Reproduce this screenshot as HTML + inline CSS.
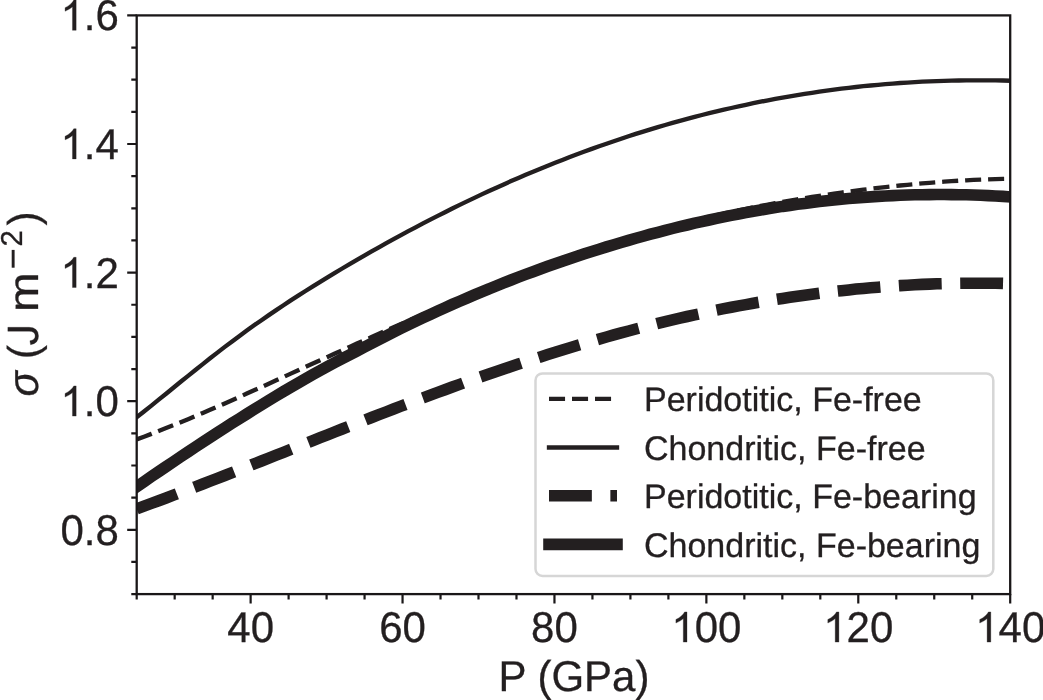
<!DOCTYPE html>
<html><head><meta charset="utf-8"><style>
html,body{margin:0;padding:0;background:#fff;overflow:hidden;}
svg{display:block;will-change:transform;}
text{font-family:"Liberation Sans",sans-serif;fill:#231f20;text-rendering:geometricPrecision;stroke:#231f20;stroke-width:0.3px;}
.g1{stroke:#231f20;stroke-width:0.3px;vector-effect:non-scaling-stroke;}
</style></head><body>
<svg width="1043" height="700" viewBox="0 0 1043 700">
<rect width="1043" height="700" fill="#fff"/>
<defs><clipPath id="ax"><rect x="136.7" y="15.4" width="873.5" height="578.7"/></clipPath></defs>
<g clip-path="url(#ax)" fill="none" stroke="#231f20" stroke-linejoin="round">
<path d="M136.7,439.4 L144.0,436.7 L151.4,433.9 L158.7,431.0 L166.1,428.1 L173.4,425.2 L180.7,422.2 L188.1,419.2 L195.4,416.1 L202.8,413.0 L210.1,409.8 L217.4,406.6 L224.8,403.4 L232.1,400.2 L239.5,396.9 L246.8,393.6 L254.1,390.3 L261.5,387.0 L268.8,383.7 L276.2,380.3 L283.5,377.0 L290.8,373.6 L298.2,370.3 L305.5,366.9 L312.9,363.6 L320.2,360.2 L327.5,356.9 L334.9,353.6 L342.2,350.3 L349.6,346.9 L356.9,343.6 L364.3,340.3 L371.6,337.1 L378.9,333.8 L386.3,330.5 L393.6,327.3 L401.0,324.1 L408.3,320.9 L415.6,317.7 L423.0,314.5 L430.3,311.4 L437.7,308.2 L445.0,305.1 L452.3,302.0 L459.7,299.0 L467.0,295.9 L474.4,292.9 L481.7,290.0 L489.0,287.0 L496.4,284.1 L503.7,281.2 L511.1,278.4 L518.4,275.5 L525.7,272.8 L533.1,270.0 L540.4,267.3 L547.8,264.6 L555.1,262.0 L562.4,259.4 L569.8,256.8 L577.1,254.3 L584.5,251.9 L591.8,249.4 L599.1,247.1 L606.5,244.7 L613.8,242.5 L621.2,240.2 L628.5,238.0 L635.8,235.9 L643.2,233.8 L650.5,231.7 L657.9,229.7 L665.2,227.8 L672.5,225.8 L679.9,224.0 L687.2,222.1 L694.6,220.3 L701.9,218.6 L709.2,216.9 L716.6,215.2 L723.9,213.5 L731.3,212.0 L738.6,210.4 L745.9,208.9 L753.3,207.4 L760.6,206.0 L768.0,204.6 L775.3,203.2 L782.6,201.9 L790.0,200.6 L797.3,199.4 L804.7,198.2 L812.0,197.0 L819.4,195.8 L826.7,194.7 L834.0,193.6 L841.4,192.6 L848.7,191.6 L856.1,190.6 L863.4,189.7 L870.7,188.8 L878.1,187.9 L885.4,187.1 L892.8,186.3 L900.1,185.5 L907.4,184.8 L914.8,184.1 L922.1,183.4 L929.5,182.8 L936.8,182.2 L944.1,181.7 L951.5,181.2 L958.8,180.7 L966.2,180.3 L973.5,179.9 L980.8,179.6 L988.2,179.3 L995.5,179.1 L1002.9,178.9 L1010.2,178.8" stroke-width="4.34" stroke-dasharray="16.058 6.944"/>
<path d="M136.7,417.3 L144.0,411.5 L151.4,405.6 L158.7,399.6 L166.1,393.7 L173.4,387.7 L180.7,381.8 L188.1,375.9 L195.4,370.0 L202.8,364.1 L210.1,358.3 L217.4,352.6 L224.8,346.9 L232.1,341.4 L239.5,335.9 L246.8,330.6 L254.1,325.3 L261.5,320.2 L268.8,315.1 L276.2,310.1 L283.5,305.3 L290.8,300.4 L298.2,295.7 L305.5,291.0 L312.9,286.4 L320.2,281.9 L327.5,277.4 L334.9,272.9 L342.2,268.5 L349.6,264.2 L356.9,259.9 L364.3,255.6 L371.6,251.4 L378.9,247.3 L386.3,243.2 L393.6,239.1 L401.0,235.1 L408.3,231.2 L415.6,227.3 L423.0,223.4 L430.3,219.6 L437.7,215.9 L445.0,212.2 L452.3,208.5 L459.7,204.9 L467.0,201.4 L474.4,197.9 L481.7,194.4 L489.0,191.0 L496.4,187.7 L503.7,184.4 L511.1,181.1 L518.4,178.0 L525.7,174.8 L533.1,171.7 L540.4,168.7 L547.8,165.7 L555.1,162.8 L562.4,159.9 L569.8,157.0 L577.1,154.3 L584.5,151.5 L591.8,148.9 L599.1,146.2 L606.5,143.7 L613.8,141.2 L621.2,138.7 L628.5,136.3 L635.8,133.9 L643.2,131.6 L650.5,129.4 L657.9,127.2 L665.2,125.0 L672.5,122.9 L679.9,120.9 L687.2,118.9 L694.6,116.9 L701.9,115.0 L709.2,113.2 L716.6,111.4 L723.9,109.7 L731.3,108.0 L738.6,106.4 L745.9,104.8 L753.3,103.2 L760.6,101.7 L768.0,100.3 L775.3,98.9 L782.6,97.6 L790.0,96.3 L797.3,95.1 L804.7,93.9 L812.0,92.8 L819.4,91.7 L826.7,90.7 L834.0,89.7 L841.4,88.7 L848.7,87.9 L856.1,87.0 L863.4,86.2 L870.7,85.5 L878.1,84.8 L885.4,84.2 L892.8,83.6 L900.1,83.0 L907.4,82.6 L914.8,82.1 L922.1,81.7 L929.5,81.4 L936.8,81.1 L944.1,80.8 L951.5,80.6 L958.8,80.5 L966.2,80.4 L973.5,80.3 L980.8,80.3 L988.2,80.3 L995.5,80.4 L1002.9,80.5 L1010.2,80.7" stroke-width="4.34" stroke-linecap="square"/>
<path d="M136.7,508.8 L144.0,506.1 L151.4,503.4 L158.7,500.7 L166.1,498.0 L173.4,495.2 L180.7,492.4 L188.1,489.6 L195.4,486.8 L202.8,484.0 L210.1,481.2 L217.4,478.3 L224.8,475.5 L232.1,472.6 L239.5,469.7 L246.8,466.8 L254.1,463.9 L261.5,461.0 L268.8,458.1 L276.2,455.2 L283.5,452.3 L290.8,449.4 L298.2,446.4 L305.5,443.5 L312.9,440.6 L320.2,437.7 L327.5,434.8 L334.9,431.9 L342.2,429.0 L349.6,426.1 L356.9,423.2 L364.3,420.4 L371.6,417.5 L378.9,414.6 L386.3,411.8 L393.6,409.0 L401.0,406.2 L408.3,403.4 L415.6,400.6 L423.0,397.9 L430.3,395.1 L437.7,392.4 L445.0,389.7 L452.3,387.0 L459.7,384.4 L467.0,381.7 L474.4,379.1 L481.7,376.6 L489.0,374.0 L496.4,371.5 L503.7,369.0 L511.1,366.5 L518.4,364.0 L525.7,361.6 L533.1,359.2 L540.4,356.9 L547.8,354.5 L555.1,352.2 L562.4,349.9 L569.8,347.7 L577.1,345.5 L584.5,343.3 L591.8,341.2 L599.1,339.1 L606.5,337.0 L613.8,334.9 L621.2,332.9 L628.5,331.0 L635.8,329.0 L643.2,327.1 L650.5,325.3 L657.9,323.4 L665.2,321.6 L672.5,319.9 L679.9,318.2 L687.2,316.5 L694.6,314.9 L701.9,313.3 L709.2,311.7 L716.6,310.2 L723.9,308.7 L731.3,307.3 L738.6,305.9 L745.9,304.6 L753.3,303.2 L760.6,302.0 L768.0,300.7 L775.3,299.5 L782.6,298.4 L790.0,297.3 L797.3,296.2 L804.7,295.2 L812.0,294.2 L819.4,293.2 L826.7,292.3 L834.0,291.5 L841.4,290.7 L848.7,289.9 L856.1,289.1 L863.4,288.4 L870.7,287.8 L878.1,287.2 L885.4,286.6 L892.8,286.1 L900.1,285.6 L907.4,285.2 L914.8,284.8 L922.1,284.4 L929.5,284.1 L936.8,283.8 L944.1,283.6 L951.5,283.4 L958.8,283.3 L966.2,283.2 L973.5,283.2 L980.8,283.2 L988.2,283.2 L995.5,283.3 L1002.9,283.4 L1010.2,283.6" stroke-width="11.58" stroke-dasharray="42.846 18.528"/>
<path d="M136.7,486.8 L144.0,481.7 L151.4,476.6 L158.7,471.6 L166.1,466.6 L173.4,461.7 L180.7,456.8 L188.1,451.9 L195.4,447.0 L202.8,442.2 L210.1,437.4 L217.4,432.6 L224.8,427.9 L232.1,423.2 L239.5,418.6 L246.8,414.0 L254.1,409.4 L261.5,404.9 L268.8,400.4 L276.2,395.9 L283.5,391.5 L290.8,387.2 L298.2,382.9 L305.5,378.7 L312.9,374.5 L320.2,370.5 L327.5,366.5 L334.9,362.5 L342.2,358.6 L349.6,354.8 L356.9,351.0 L364.3,347.2 L371.6,343.4 L378.9,339.6 L386.3,335.8 L393.6,332.1 L401.0,328.4 L408.3,324.8 L415.6,321.3 L423.0,317.8 L430.3,314.4 L437.7,311.0 L445.0,307.7 L452.3,304.4 L459.7,301.2 L467.0,298.1 L474.4,294.9 L481.7,291.9 L489.0,288.8 L496.4,285.9 L503.7,282.9 L511.1,280.0 L518.4,277.2 L525.7,274.4 L533.1,271.7 L540.4,269.0 L547.8,266.3 L555.1,263.7 L562.4,261.2 L569.8,258.7 L577.1,256.3 L584.5,253.8 L591.8,251.5 L599.1,249.2 L606.5,246.9 L613.8,244.7 L621.2,242.5 L628.5,240.4 L635.8,238.3 L643.2,236.2 L650.5,234.2 L657.9,232.3 L665.2,230.4 L672.5,228.5 L679.9,226.7 L687.2,225.0 L694.6,223.2 L701.9,221.6 L709.2,220.0 L716.6,218.4 L723.9,216.9 L731.3,215.4 L738.6,214.0 L745.9,212.6 L753.3,211.2 L760.6,210.0 L768.0,208.7 L775.3,207.6 L782.6,206.4 L790.0,205.4 L797.3,204.3 L804.7,203.4 L812.0,202.4 L819.4,201.6 L826.7,200.7 L834.0,200.0 L841.4,199.2 L848.7,198.6 L856.1,197.9 L863.4,197.4 L870.7,196.9 L878.1,196.4 L885.4,196.0 L892.8,195.6 L900.1,195.3 L907.4,195.0 L914.8,194.8 L922.1,194.7 L929.5,194.6 L936.8,194.5 L944.1,194.5 L951.5,194.6 L958.8,194.7 L966.2,194.8 L973.5,195.0 L980.8,195.3 L988.2,195.6 L995.5,196.0 L1002.9,196.4 L1010.2,196.9" stroke-width="11.58" stroke-linecap="square"/>
</g>

<rect x="535.5" y="373.4" width="457.8" height="202.5" rx="7" ry="7" fill="#fff" fill-opacity="0.8" stroke="#d6d6d6" stroke-width="2.5"/>
<line x1="549.0" y1="398.8" x2="617.0" y2="398.8" stroke="#231f20" stroke-width="4.34" stroke-dasharray="16.058 6.944"/>
<line x1="549.0" y1="447.5" x2="617.0" y2="447.5" stroke="#231f20" stroke-width="4.34" stroke-linecap="square"/>
<line x1="549.0" y1="495.7" x2="617.0" y2="495.7" stroke="#231f20" stroke-width="11.58" stroke-dasharray="42.846 18.528"/>
<line x1="549.0" y1="544.4" x2="617.0" y2="544.4" stroke="#231f20" stroke-width="11.58" stroke-linecap="square"/>
<text x="644" y="411.0" font-size="34">Peridotitic, Fe-free</text>
<text x="644" y="459.7" font-size="34">Chondritic, Fe-free</text>
<text x="644" y="507.9" font-size="34">Peridotitic, Fe-bearing</text>
<text x="644" y="556.6" font-size="34">Chondritic, Fe-bearing</text>
<rect x="136.7" y="15.4" width="873.5" height="578.7" fill="none" stroke="#1a1718" stroke-width="2.3"/>
<path d="M136.70,594.1 V599.50 M174.68,594.1 V599.50 M212.66,594.1 V599.50 M250.63,594.1 V603.60 M288.61,594.1 V599.50 M326.59,594.1 V599.50 M364.57,594.1 V599.50 M402.55,594.1 V603.60 M440.53,594.1 V599.50 M478.50,594.1 V599.50 M516.48,594.1 V599.50 M554.46,594.1 V603.60 M592.44,594.1 V599.50 M630.42,594.1 V599.50 M668.40,594.1 V599.50 M706.37,594.1 V603.60 M744.35,594.1 V599.50 M782.33,594.1 V599.50 M820.31,594.1 V599.50 M858.29,594.1 V603.60 M896.27,594.1 V599.50 M934.24,594.1 V599.50 M972.22,594.1 V599.50 M1010.20,594.1 V603.60 M136.7,594.10 H131.30 M136.7,561.95 H131.30 M136.7,529.80 H127.20 M136.7,497.65 H131.30 M136.7,465.50 H131.30 M136.7,433.35 H131.30 M136.7,401.20 H127.20 M136.7,369.05 H131.30 M136.7,336.90 H131.30 M136.7,304.75 H131.30 M136.7,272.60 H127.20 M136.7,240.45 H131.30 M136.7,208.30 H131.30 M136.7,176.15 H131.30 M136.7,144.00 H127.20 M136.7,111.85 H131.30 M136.7,79.70 H131.30 M136.7,47.55 H131.30 M136.7,15.40 H127.20" stroke="#1a1718" stroke-width="2.2" fill="none"/>
<text transform="translate(227.28,642.10) scale(1,1.025)" font-size="42">40</text>
<text transform="translate(379.19,642.10) scale(1,1.025)" font-size="42">60</text>
<text transform="translate(531.10,642.10) scale(1,1.025)" font-size="42">80</text>
<text transform="translate(671.34,642.10) scale(1,1.025)" font-size="42"><tspan style="fill:none;stroke:none">1</tspan>00</text><path transform="translate(671.34,642.10) scale(0.02051,-0.02051)" d="M763,0L583,0L583,1147Q518,1085 412.5,1023Q307,961 223,930L223,1104Q374,1175 486.5,1276Q599,1377 647,1472L763,1472Z" fill="#231f20" class="g1"/>
<text transform="translate(823.25,642.10) scale(1,1.025)" font-size="42"><tspan style="fill:none;stroke:none">1</tspan>20</text><path transform="translate(823.25,642.10) scale(0.02051,-0.02051)" d="M763,0L583,0L583,1147Q518,1085 412.5,1023Q307,961 223,930L223,1104Q374,1175 486.5,1276Q599,1377 647,1472L763,1472Z" fill="#231f20" class="g1"/>
<text transform="translate(975.16,642.10) scale(1,1.025)" font-size="42"><tspan style="fill:none;stroke:none">1</tspan>40</text><path transform="translate(975.16,642.10) scale(0.02051,-0.02051)" d="M763,0L583,0L583,1147Q518,1085 412.5,1023Q307,961 223,930L223,1104Q374,1175 486.5,1276Q599,1377 647,1472L763,1472Z" fill="#231f20" class="g1"/>
<text transform="translate(60.51,544.70) scale(1,1.025)" font-size="42">0.8</text>
<text transform="translate(60.51,416.10) scale(1,1.025)" font-size="42"><tspan style="fill:none;stroke:none">1</tspan>.0</text><path transform="translate(60.51,416.10) scale(0.02051,-0.02051)" d="M763,0L583,0L583,1147Q518,1085 412.5,1023Q307,961 223,930L223,1104Q374,1175 486.5,1276Q599,1377 647,1472L763,1472Z" fill="#231f20" class="g1"/>
<text transform="translate(60.51,287.50) scale(1,1.025)" font-size="42"><tspan style="fill:none;stroke:none">1</tspan>.2</text><path transform="translate(60.51,287.50) scale(0.02051,-0.02051)" d="M763,0L583,0L583,1147Q518,1085 412.5,1023Q307,961 223,930L223,1104Q374,1175 486.5,1276Q599,1377 647,1472L763,1472Z" fill="#231f20" class="g1"/>
<text transform="translate(60.51,158.90) scale(1,1.025)" font-size="42"><tspan style="fill:none;stroke:none">1</tspan>.4</text><path transform="translate(60.51,158.90) scale(0.02051,-0.02051)" d="M763,0L583,0L583,1147Q518,1085 412.5,1023Q307,961 223,930L223,1104Q374,1175 486.5,1276Q599,1377 647,1472L763,1472Z" fill="#231f20" class="g1"/>
<text transform="translate(60.51,30.30) scale(1,1.025)" font-size="42"><tspan style="fill:none;stroke:none">1</tspan>.6</text><path transform="translate(60.51,30.30) scale(0.02051,-0.02051)" d="M763,0L583,0L583,1147Q518,1085 412.5,1023Q307,961 223,930L223,1104Q374,1175 486.5,1276Q599,1377 647,1472L763,1472Z" fill="#231f20" class="g1"/>
<text transform="translate(574,690.8) scale(1,1.025)" font-size="42" text-anchor="middle">P (GPa)</text>
<g transform="translate(38.1,400) rotate(-90)"><text transform="translate(3.6,0) scale(1,1.025)" font-size="42" font-style="italic" stroke="#231f20" stroke-width="0.9">σ</text><text transform="translate(41.0,0) scale(1,1.025)" font-size="42">(</text><text transform="translate(54.6,0) scale(1,1.025)" font-size="42.5" style="fill:none;stroke:none">J</text><path transform="translate(54.6,0) scale(0.02075,-0.02148)" d="M457,-20Q99,-20 32,350L219,381Q237,265 300,200Q363,135 458,135Q562,135 622,206.5Q682,278 682,416L682,1409L872,1409L872,420Q872,215 761,97.5Q650,-20 457,-20Z" fill="#231f20" class="g1"/><text transform="translate(88.1,0) scale(1.133,1)" font-size="42">m</text><rect x="132.3" y="-26.4" width="17.8" height="2.9" fill="#231f20"/><text transform="translate(153.4,-16) scale(1,1.025)" font-size="29.4">2</text><text transform="translate(174.6,0) scale(1,1.025)" font-size="42">)</text></g>
</svg></body></html>
